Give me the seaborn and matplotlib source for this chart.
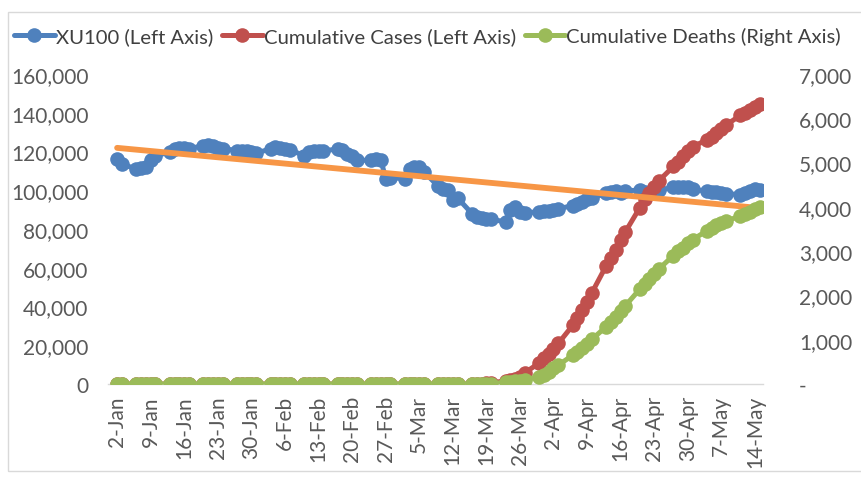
import numpy as np
import pandas as pd
import seaborn as sns
import matplotlib.pyplot as plt
from matplotlib.patches import Rectangle

# trading days, 2 Jan - 15 May 2020
dates = pd.bdate_range('2020-01-02', '2020-05-15')

xu100 = [
    # Jan
    116000, 113500, 111000, 111500, 112000, 115500, 117500, 120000, 121500, 122000, 121800,
    121500, 123000, 123500, 123000, 122000, 121500, 120500, 120300, 120500, 120000, 119000,
    # Feb
    121500, 122300, 122000, 121500, 121000, 117800, 119500, 120300, 120400, 120300,
    121300, 120800, 118500, 117500, 115500, 115500, 116000, 115800, 106000, 106500,
    # Mar
    106000, 111000, 112000, 111800, 109500, 102000, 100500, 100000, 95000, 96000, 88000,
    86000, 85500, 85300, 85000, 83700, 90000, 91500, 89000, 88500, 88800, 89500,
    # Apr
    89500, 89800, 90500, 92000, 93000, 94000, 95500, 95800, 98500, 99000, 99500,
    98500, 99800, 100000, 99000, 98800, 99500, 100000, 101500, 101700, 101500, 101700,
    # May
    100500, 99500, 99200, 99000, 98800, 98200, 97800, 98500, 99500, 100500, 100000,
]

cases = [
    # Jan
    0, 0, 0, 0, 0, 0, 0, 0, 0, 0, 0, 0, 0, 0, 0, 0, 0, 0, 0, 0, 0, 0,
    # Feb
    0, 0, 0, 0, 0, 0, 0, 0, 0, 0, 0, 0, 0, 0, 0, 0, 0, 0, 0, 0,
    # Mar
    0, 0, 0, 0, 0, 0, 0, 1, 1, 5, 47, 98, 191, 359, 670, 1529, 1872, 2433, 3629, 5698,
    10827, 13531,
    # Apr
    15679, 18135, 20921, 30217, 34109, 38226, 42282, 47029, 61049, 65111, 69392,
    74193, 78546, 90980, 95591, 98674, 101790, 104912, 112261, 114653, 117589, 120204,
    # May
    122392, 126045, 127659, 129491, 131744, 133721, 138657, 139771, 141475, 143114, 144749,
]

deaths = [
    # Jan
    0, 0, 0, 0, 0, 0, 0, 0, 0, 0, 0, 0, 0, 0, 0, 0, 0, 0, 0, 0, 0, 0,
    # Feb
    0, 0, 0, 0, 0, 0, 0, 0, 0, 0, 0, 0, 0, 0, 0, 0, 0, 0, 0, 0,
    # Mar
    0, 0, 0, 0, 0, 0, 0, 0, 0, 0, 0, 1, 3, 4, 9, 37, 44, 59, 75, 92, 168, 214,
    # Apr
    277, 356, 425, 649, 725, 812, 908, 1006, 1296, 1403, 1518,
    1643, 1769, 2140, 2259, 2376, 2491, 2600, 2900, 2992, 3081, 3174,
    # May
    3258, 3461, 3520, 3584, 3641, 3689, 3786, 3841, 3894, 3952, 4007,
]

tick_dates = pd.date_range('2020-01-02', '2020-05-14', freq='7D')
tick_labels = ['2-Jan', '9-Jan', '16-Jan', '23-Jan', '30-Jan', '6-Feb', '13-Feb', '20-Feb',
               '27-Feb', '5-Mar', '12-Mar', '19-Mar', '26-Mar', '2-Apr', '9-Apr', '16-Apr',
               '23-Apr', '30-Apr', '7-May', '14-May']
left_ticks = [0, 20000, 40000, 60000, 80000, 100000, 120000, 140000, 160000]
right_ticks = [0, 1000, 2000, 3000, 4000, 5000, 6000, 7000]

df = pd.DataFrame({'date': dates, 'xu100': xu100, 'cases': cases, 'deaths': deaths})

# linear trendline of XU100 (like Excel)
xnum = (df['date'] - df['date'].iloc[0]).dt.days.values
coef = np.polyfit(xnum, df['xu100'], 1)
df['trend'] = np.polyval(coef, xnum)

blue, red, green, orange = '#4F81BD', '#C0504D', '#9BBB59', '#F79646'
txt = '#595959'

sns.set_style('white')
plt.rcParams['font.family'] = ['Lato', 'DejaVu Sans']

fig = plt.figure(figsize=(8.61, 4.81), dpi=100)
ax = fig.add_axes([108 / 861, 1 - 385 / 481, 655 / 861, 310 / 481])
ax2 = ax.twinx()

kw = dict(marker='o', markersize=10.5, linewidth=3.6, markeredgewidth=0)
sns.lineplot(data=df, x='date', y='xu100', ax=ax, color=blue, label='XU100 (Left Axis)', **kw)
sns.lineplot(data=df, x='date', y='cases', ax=ax, color=red, label='Cumulative Cases (Left Axis)', **kw)
sns.lineplot(data=df, x='date', y='trend', ax=ax, color=orange, linewidth=4.2, label='_trend')
sns.lineplot(data=df, x='date', y='deaths', ax=ax2, color=green, label='Cumulative Deaths (Right Axis)', **kw)

ax.set_ylim(0, 160000)
ax2.set_ylim(0, 7000)
ax.set_xlim(dates[0] - pd.Timedelta(days=1.9), dates[-1] + pd.Timedelta(days=0.7))

fs = 15
ax.set_xticks(tick_dates)
ax.set_xticklabels(tick_labels, rotation=90, color=txt, fontsize=fs)
ax.set_yticks(left_ticks)
ax.set_yticklabels([f'{v:,}' for v in left_ticks], color=txt, fontsize=fs)
ax2.set_yticks(right_ticks)
ax2.set_yticklabels(['-'] + [f'{v:,}' for v in right_ticks[1:]], color=txt, fontsize=fs)

ax.tick_params(axis='x', length=0, pad=8)
ax.tick_params(axis='y', length=0, pad=14)
ax2.tick_params(axis='y', length=0, pad=26)
for a in (ax, ax2):
    a.set_xlabel('')
    a.set_ylabel('')
    for s in a.spines.values():
        s.set_visible(False)
ax.spines['bottom'].set_visible(True)
ax.spines['bottom'].set_color('#D9D9D9')
ax.spines['bottom'].set_linewidth(1)

handles, labels = [], []
for a in (ax, ax2):
    h, l = a.get_legend_handles_labels()
    handles += h
    labels += l
    if a.get_legend():
        a.get_legend().remove()
fig.legend(handles, labels, loc='center left', bbox_to_anchor=(14 / 861, 1 - 37 / 481), ncol=3,
           frameon=False, fontsize=14.6, handlelength=2.0, handletextpad=0.05, columnspacing=0.45,
           labelcolor='#404040', borderaxespad=0, borderpad=0)

fig.patches.append(Rectangle((8 / 861, 9 / 481), 1.0, 459 / 481, transform=fig.transFigure,
                             fill=False, edgecolor='#D9D9D9', linewidth=1))

fig.savefig('out.png', dpi=100)
